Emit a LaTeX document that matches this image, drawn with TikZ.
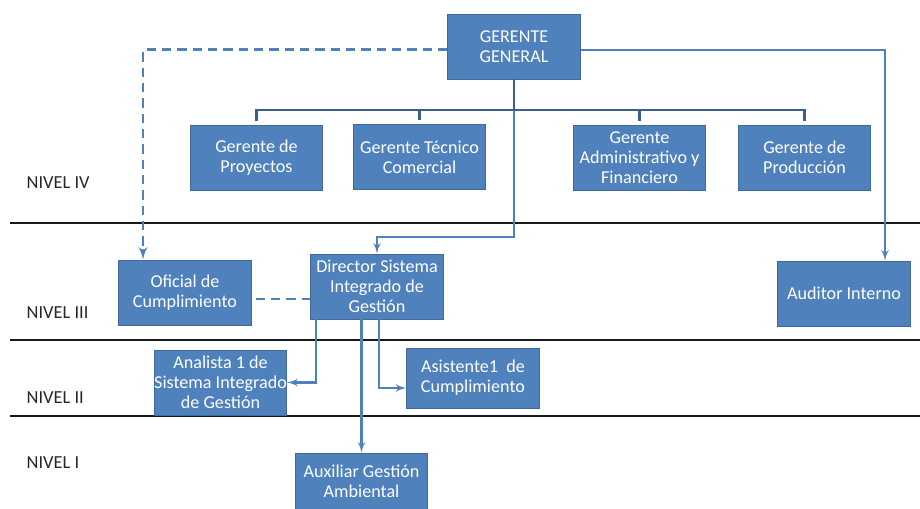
\documentclass[tikz,border=0pt]{standalone}
\usepackage{fontspec}
\setmainfont{Carlito}
\usepackage{tikz}
\usetikzlibrary{arrows}
\usetikzlibrary{positioning}

\definecolor{boxblue}{HTML}{4F81BD}
\definecolor{boxedge}{HTML}{41699A}
\definecolor{treeblue}{HTML}{3B5F8C}

\begin{document}
\begin{tikzpicture}[x=0.75pt,y=-0.75pt,>=latex',
  org node/.style={rectangle,fill=boxblue,draw=boxedge,line width=0.6pt,text=white,
    align=center,inner sep=1pt,minimum width=99.5pt,minimum height=48.75pt,
    font=\fontsize{13.6}{14.8}\selectfont},
  link/.style={draw=boxblue,line width=1.7pt},
  tree link/.style={draw=treeblue,line width=1.7pt},
  dashed link/.style={draw=boxblue,line width=2.2pt,dash pattern=on 7pt off 4.5pt},
  level line/.style={draw=black!90,line width=2.2pt},
  level label/.style={anchor=west,font=\fontsize{13.8}{15}\selectfont,text=black!85}]

  \useasboundingbox[fill=white] (0,0) rectangle (920,509);

  % level separators
  \draw[level line] (10,223) -- (920,223);
  \draw[level line] (10,340) -- (920,340);
  \draw[level line] (10,416) -- (920,416);

  \node[level label] (n4) at (22,183) {NIVEL IV};
  \node[level label] (n3) at (22,313) {NIVEL III};
  \node[level label] (n2) at (22,398) {NIVEL II};
  \node[level label] (n1) at (22,463) {NIVEL I};

  % boxes
  \node[org node] (gg) at (514,46.5) {GERENTE\\GENERAL};
  \node[org node] (gp) at (256.5,157.5) {Gerente de\\Proyectos};
  \node[org node] (gtc) at (419.5,157) {Gerente Técnico\\Comercial};
  \node[org node] (gaf) at (639.5,157.5) {Gerente\\Administrativo y\\Financiero};
  \node[org node] (gpr) at (804.5,157.5) {Gerente de\\Producción};
  \node[org node] (ofi) at (185,292.5) {Oficial de\\Cumplimiento};
  \node[org node] (dir) at (377,286.5) {Director Sistema\\Integrado de\\Gestión};
  \node[org node] (aud) at (844,293.5) {Auditor Interno};
  \node[org node,inner xsep=0pt] (ana) at (220.5,382.5) {Analista 1 de\\Sistema Integrado\\de Gestión};
  \node[org node,minimum height=45pt] (asi) at (473,378) {Asistente1\ \ de\\Cumplimiento};
  \node[org node,minimum height=42pt] (aux) at (361.5,481) {Auxiliar Gestión\\Ambiental};

  \coordinate (bus) at (514,110);
  \coordinate (turn) at (514,237);

  % connectors
  \draw[link,->] (gg.south) -- (turn) -| (dir.north);
  \draw[tree link] (gg.south) -- (bus);
  \draw[tree link,shorten >=3pt] (bus) -| (gp.north);
  \draw[tree link,shorten >=3pt] (bus) -| (gtc.north);
  \draw[tree link,shorten >=3pt] (bus) -| (gaf.north);
  \draw[tree link,shorten >=3pt] (bus) -| (gpr.north);

  \draw[dashed link,->] ([yshift=-2.6pt]gg.west) -| ([xshift=-31.5pt]ofi.north);
  \draw[dashed link,shorten <=3pt] ([yshift=-4.9pt]ofi.east) -- ([yshift=-4.9pt]ofi.east -| dir.west);
  \draw[link,->] ([yshift=-2.6pt]gg.east) -| ([xshift=30.75pt]aud.north);

  \draw[link,->] ([xshift=-45.75pt]dir.south) |- (ana.east);
  \draw[link,->] ([xshift=1.5pt]dir.south) |- ([yshift=-7.5pt]asi.west);
  \draw[link,->] (aux.north |- dir.south) -- (aux.north);
\end{tikzpicture}
\end{document}
